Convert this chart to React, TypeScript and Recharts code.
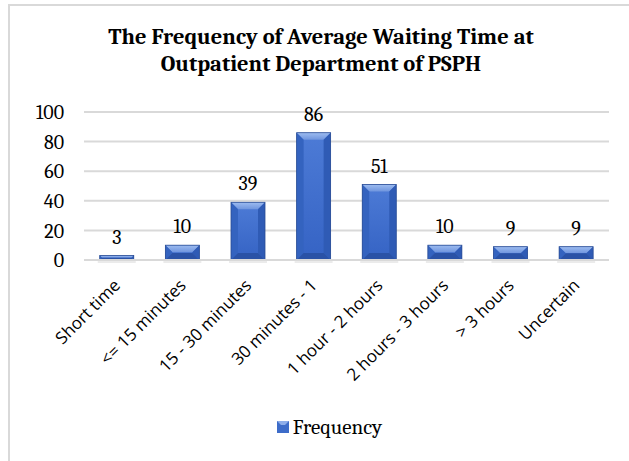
import { BarChart, Bar, XAxis, YAxis, CartesianGrid, LabelList, Legend } from "recharts";

const categories = [
  "Short time",
  "<= 15 minutes",
  "15 - 30 minutes",
  "30 minutes - 1",
  "1 hour - 2 hours",
  "2 hours - 3 hours",
  "> 3 hours",
  "Uncertain",
];
const frequency = [3, 10, 39, 86, 51, 10, 9, 9];
const yTicks = [0, 20, 40, 60, 80, 100];

const data = categories.map((name, i) => ({ name, Frequency: frequency[i] }));

const SERIF = "Cambria, 'Liberation Serif', serif";
const SANS = "'Open Sans', sans-serif";

function BevelBar(props: any) {
  const { x, y, width, height } = props;
  if (!height || height <= 0) return null;
  const b = Math.min(7, height / 2, width / 4);
  const w = width;
  const h = height;
  return (
    <g>
      <rect x={x - 2} y={y + h - 1} width={w + 4} height={4} fill="#000" opacity={0.08} />
      <rect x={x} y={y} width={w} height={h} fill="url(#faceGrad)" />
      <polygon points={`${x},${y} ${x + w},${y} ${x + w - b},${y + b} ${x + b},${y + b}`} fill="url(#topGrad)" />
      <polygon points={`${x},${y} ${x + b},${y + b} ${x + b},${y + h - b} ${x},${y + h}`} fill="#3463bf" />
      <polygon points={`${x + w},${y} ${x + w - b},${y + b} ${x + w - b},${y + h - b} ${x + w},${y + h}`} fill="#2f5bb5" />
      <polygon points={`${x},${y + h} ${x + b},${y + h - b} ${x + w - b},${y + h - b} ${x + w},${y + h}`} fill="#2a52a6" />
      <rect x={x} y={y} width={w} height={h} fill="none" stroke="#2a4d94" strokeWidth={0.8} />
    </g>
  );
}

function XTick(props: any) {
  const { x, y, payload } = props;
  return (
    <g transform={`translate(${x - 4},${y + 10})`}>
      <text
        transform="rotate(-45)"
        textAnchor="end"
        x={0}
        y={0}
        dy={12}
        fontFamily={SANS}
        fontSize={17}
        fill="#000"
      >
        {payload.value}
      </text>
    </g>
  );
}

function LegendContent() {
  return (
    <div style={{ display: "flex", justifyContent: "center", alignItems: "center", fontFamily: SERIF, fontSize: 21, color: "#000", paddingLeft: 50 }}>
      <svg width={12} height={12} style={{ marginRight: 4 }}>
        <rect x={0} y={0} width={12} height={12} fill="#3d6cc9" />
        <polygon points="0,0 12,0 8,4 4,4" fill="#8eaeea" />
      </svg>
      <span>Frequency</span>
    </div>
  );
}

export default function App() {
  return (
    <div style={{ position: "absolute", left: 0, top: 0, width: 629, height: 461, background: "#fff" }}>
      <div
        style={{
          position: "absolute",
          left: 8,
          top: 4,
          width: 621,
          height: 457,
          borderTop: "2px solid #d9d9d9",
          borderLeft: "2px solid #d9d9d9",
        }}
      />
      <div
        style={{
          position: "absolute",
          left: 13,
          top: 24,
          width: 616,
          textAlign: "center",
          fontFamily: SERIF,
          fontWeight: "bold",
          fontSize: 22.5,
          lineHeight: "27px",
          color: "#000",
        }}
      >
        The Frequency of Average Waiting Time at
        <br />
        Outpatient Department of PSPH
      </div>
      <div style={{ position: "absolute", left: 0, top: 0 }}>
        <BarChart width={629} height={461} data={data} margin={{ top: 112, right: 20, left: 0, bottom: 14 }} barCategoryGap="24%">
          <defs>
            <linearGradient id="faceGrad" x1="0" y1="0" x2="0" y2="1">
              <stop offset="0%" stopColor="#4d7bd6" />
              <stop offset="100%" stopColor="#3563c4" />
            </linearGradient>
            <linearGradient id="topGrad" x1="0" y1="0" x2="0" y2="1">
              <stop offset="0%" stopColor="#9dbcf0" />
              <stop offset="100%" stopColor="#6f95de" />
            </linearGradient>
          </defs>
          <CartesianGrid vertical={false} stroke="#d9d9d9" strokeWidth={2} />
          <XAxis
            dataKey="name"
            interval={0}
            tick={<XTick />}
            tickLine={false}
            axisLine={{ stroke: "#d9d9d9", strokeWidth: 2 }}
            height={155}
          />
          <YAxis
            domain={[0, 100]}
            ticks={yTicks}
            width={84}
            tickLine={false}
            axisLine={false}
            tickMargin={14}
            tick={{ fontFamily: SERIF, fontSize: 20, fill: "#000" }}
          />
          <Legend verticalAlign="bottom" height={32} content={<LegendContent />} />
          <Bar dataKey="Frequency" shape={<BevelBar />} isAnimationActive={false}>
            <LabelList dataKey="Frequency" position="top" offset={12} style={{ fontFamily: SERIF, fontSize: 20, fill: "#000" }} />
          </Bar>
        </BarChart>
      </div>
    </div>
  );
}
